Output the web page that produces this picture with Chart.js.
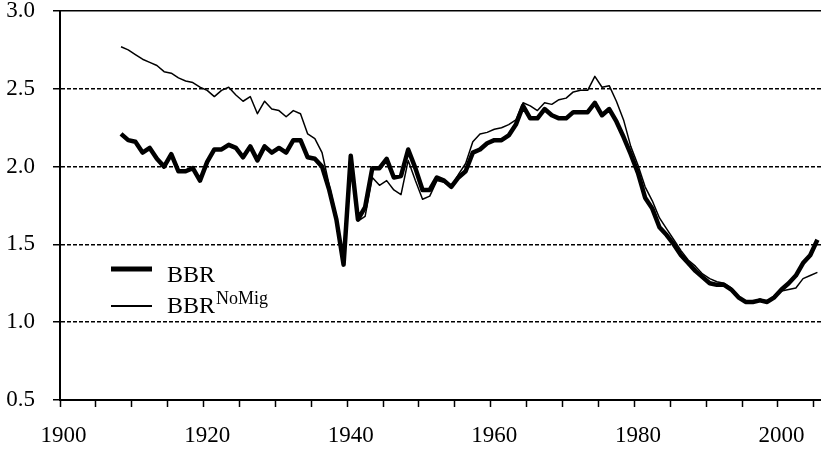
<!DOCTYPE html>
<html>
<head>
<meta charset="utf-8">
<script src="https://cdn.jsdelivr.net/npm/chart.js@4.4.1/dist/chart.umd.min.js"></script>
<style>
    html, body { margin: 0; padding: 0; background: #ffffff; }
    #wrap { width: 821px; height: 453px; }
</style>
</head>
<body>
<div id="wrap"><canvas id="myChart"></canvas></div>
<script>
// axis range (categories are single years)
const axisStartYear = 1900;
const axisEndYear = 2005;
const firstDataYear = 1908;

// BBR, 1908..2005
const bbr = [
    2.21, 2.17, 2.16, 2.09, 2.12, 2.05, 2.00, 2.08, 1.97, 1.97,
    1.99, 1.91, 2.03, 2.11, 2.11, 2.14, 2.12, 2.06, 2.13, 2.04,
    2.13, 2.09, 2.12, 2.09, 2.17, 2.17, 2.06, 2.05, 2.00, 1.85,
    1.66, 1.37, 2.07, 1.66, 1.74, 1.99, 1.99, 2.05, 1.93, 1.94,
    2.11, 1.99, 1.85, 1.85, 1.93, 1.91, 1.87, 1.93, 1.97, 2.09,
    2.11, 2.15, 2.17, 2.17, 2.20, 2.27, 2.39, 2.31, 2.31, 2.37,
    2.33, 2.31, 2.31, 2.35, 2.35, 2.35, 2.41, 2.33, 2.37, 2.29,
    2.19, 2.08, 1.96, 1.80, 1.73, 1.61, 1.56, 1.50, 1.43, 1.38,
    1.33, 1.29, 1.25, 1.24, 1.24, 1.21, 1.16, 1.13, 1.13, 1.14,
    1.13, 1.16, 1.21, 1.25, 1.30, 1.38, 1.43, 1.53
];

// BBR without migration, 1908..2005
const bbrNoMig = [
    2.77, 2.75, 2.72, 2.69, 2.67, 2.65, 2.61, 2.60, 2.57, 2.55,
    2.54, 2.51, 2.49, 2.45, 2.49, 2.51, 2.46, 2.42, 2.45, 2.34,
    2.42, 2.37, 2.36, 2.32, 2.36, 2.34, 2.21, 2.18, 2.09, 1.88,
    1.68, 1.39, 2.05, 1.65, 1.68, 1.93, 1.88, 1.91, 1.85, 1.82,
    2.04, 1.91, 1.79, 1.81, 1.91, 1.90, 1.87, 1.95, 2.02, 2.16,
    2.21, 2.22, 2.24, 2.25, 2.27, 2.30, 2.41, 2.39, 2.36, 2.41,
    2.40, 2.43, 2.44, 2.48, 2.49, 2.49, 2.58, 2.51, 2.52, 2.42,
    2.30, 2.13, 2.01, 1.87, 1.78, 1.67, 1.60, 1.53, 1.46, 1.40,
    1.36, 1.31, 1.28, 1.26, 1.25, 1.22, 1.16, 1.13, 1.13, 1.15,
    1.13, 1.17, 1.20, 1.21, 1.22, 1.28, 1.30, 1.32
];

const xTickLabels = ["1900", "1920", "1940", "1960", "1980", "2000"];
const yMin = 0.5;
const yMax = 3.0;
const yStep = 0.5;

const seriesNames = ["BBR", "BBR"];
const seriesSup = ["", "NoMig"];

document.addEventListener("DOMContentLoaded", () => {
    const ctx = document.getElementById("myChart").getContext("2d");

    const labels = [];
    for (let y = axisStartYear; y <= axisEndYear; y++) labels.push(String(y));
    const pad = new Array(firstDataYear - axisStartYear).fill(null);

    const serif = '"Liberation Serif", "Times New Roman", serif';

    // legend with superscript, drawn by hand
    const legendPlugin = {
        id: "bbrLegend",
        afterDraw: (chart) => {
            const c = chart.ctx;
            c.save();
            c.strokeStyle = "#000";
            c.lineCap = "butt";
            c.lineWidth = 5;
            c.beginPath();
            c.moveTo(111, 269);
            c.lineTo(152, 269);
            c.stroke();
            c.lineWidth = 2;
            c.beginPath();
            c.moveTo(111, 306);
            c.lineTo(152, 306);
            c.stroke();

            c.fillStyle = "#000";
            c.textBaseline = "alphabetic";
            c.font = "24px " + serif;
            c.fillText(seriesNames[0], 167, 282);
            c.fillText(seriesNames[1], 167, 313);
            const w = c.measureText(seriesNames[1]).width;
            c.font = "18px " + serif;
            c.fillText(seriesSup[1], 167 + w + 1, 304);
            c.restore();
        },
    };

    const noOverflow = (s) => {
        s.paddingTop = 0;
        s.paddingBottom = 0;
        s.paddingLeft = 0;
        s.paddingRight = 0;
    };

    new Chart(ctx, {
        type: "line",
        data: {
            labels: labels,
            datasets: [
                {
                    label: "BBR",
                    data: pad.concat(bbr),
                    borderColor: "#000",
                    borderWidth: 4.5,
                    pointRadius: 0,
                    fill: false,
                    tension: 0,
                    borderJoinStyle: "round",
                    order: 2,
                },
                {
                    label: "BBR NoMig",
                    data: pad.concat(bbrNoMig),
                    borderColor: "#000",
                    borderWidth: 1.5,
                    pointRadius: 0,
                    fill: false,
                    tension: 0,
                    borderJoinStyle: "round",
                    order: 1,
                },
            ],
        },
        options: {
            responsive: true,
            maintainAspectRatio: false,
            animation: false,
            plugins: {
                legend: { display: false },
                tooltip: { enabled: false },
            },
            layout: {
                padding: { top: 11, right: 0, left: 0, bottom: 0 },
            },
            scales: {
                x: {
                    type: "category",
                    offset: true,
                    grid: {
                        offset: true,
                        drawOnChartArea: false,
                        drawTicks: true,
                        tickLength: 7,
                        tickWidth: 1.5,
                        tickColor: (c) => (c.index % 5 === 0 ? "#000" : "rgba(0,0,0,0)"),
                    },
                    border: { display: true, color: "#000", width: 2 },
                    ticks: {
                        autoSkip: false,
                        minRotation: 0,
                        maxRotation: 0,
                        padding: 17,
                        color: "#000",
                        font: { family: serif, size: 23, lineHeight: 1 },
                        callback: function (val) {
                            const l = this.getLabelForValue(val);
                            return xTickLabels.includes(l) ? l : "";
                        },
                    },
                    afterFit: (s) => { s.height = 53; noOverflow(s); },
                },
                y: {
                    min: yMin,
                    max: yMax,
                    grid: {
                        color: (c) => (c.tick && c.tick.value === yMin ? "rgba(0,0,0,0)" : "#000"),
                        lineWidth: 1.5,
                        drawTicks: true,
                        tickLength: 7,
                        tickWidth: 1.5,
                        tickColor: "#000",
                    },
                    border: {
                        display: true,
                        color: "#000",
                        width: 2,
                        dash: (c) => (c.tick && c.tick.value > yMin && c.tick.value < yMax ? [4, 2] : []),
                    },
                    ticks: {
                        stepSize: yStep,
                        padding: 18,
                        color: "#000",
                        font: { family: serif, size: 23, lineHeight: 1 },
                        callback: (v) => Number(v).toFixed(1),
                    },
                    afterFit: (s) => { s.width = 60; noOverflow(s); },
                },
            },
        },
        plugins: [legendPlugin],
    });
});
</script>
</body>
</html>
